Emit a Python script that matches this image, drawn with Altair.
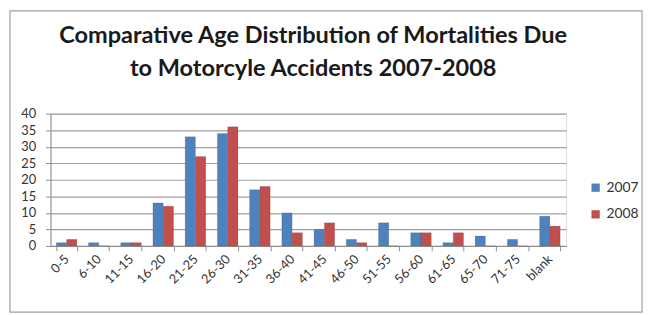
import altair as alt
import pandas as pd

categories = ["0-5", "6-10", "11-15", "16-20", "21-25", "26-30", "31-35", "36-40",
              "41-45", "46-50", "51-55", "56-60", "61-65", "65-70", "71-75", "blank"]
values_2007 = [1, 1, 1, 13, 33, 34, 17, 10, 5, 2, 7, 4, 1, 3, 2, 9]
values_2008 = [2, 0, 1, 12, 27, 36, 18, 4, 7, 1, 0, 4, 4, 0, 0, 6]
series = ["2007", "2008"]
colors = ["#4F81BD", "#C0504D"]
y_ticks = [0, 5, 10, 15, 20, 25, 30, 35, 40]
title_lines = ["Comparative Age Distribution  of Mortalities Due",
               "to Motorcyle Accidents 2007-2008"]

rows = []
for c, a, b in zip(categories, values_2007, values_2008):
    rows.append({"age": c, "year": "2007", "count": a})
    rows.append({"age": c, "year": "2008", "count": b})
df = pd.DataFrame(rows)

W, H = 522, 134

bars = alt.Chart(df).mark_bar(stroke="#00000033", strokeWidth=0.5).encode(
    x=alt.X("age:N", sort=categories,
            scale=alt.Scale(paddingInner=0.36, paddingOuter=0.18),
            axis=alt.Axis(title=None, labelAngle=-45, labelFontSize=13,
                          labelFont="Lato", labelColor="#333333",
                          labelPadding=6, tickBand="extent", tickSize=5,
                          domainColor="#8c8c8c", tickColor="#8c8c8c",
                          labelAlign="right", labelBaseline="middle")),
    xOffset=alt.XOffset("year:N", sort=series),
    y=alt.Y("count:Q", scale=alt.Scale(domain=[0, 40]),
            axis=alt.Axis(title=None, values=y_ticks, labelFontSize=13,
                          labelFont="Lato", labelColor="#333333",
                          labelPadding=10, tickSize=5,
                          gridColor="#a0a0a0", gridWidth=1.2,
                          domainColor="#8c8c8c", tickColor="#8c8c8c")),
    color=alt.Color("year:N", sort=series,
                    scale=alt.Scale(domain=series, range=colors),
                    legend=alt.Legend(title=None, orient="none",
                                      legendX=545, legendY=68,
                                      symbolType="square", symbolSize=70,
                                      symbolStrokeWidth=0,
                                      labelFontSize=14, labelFont="Lato",
                                      labelColor="#333333", rowPadding=13)),
)

border = alt.Chart(pd.DataFrame({"d": [0]})).mark_rect(
    fill=None, stroke="#a0a0a0", strokeWidth=1.2).encode(
    x=alt.value(-41), x2=alt.value(599), y=alt.value(-104), y2=alt.value(201))

title_df = pd.DataFrame({"line": title_lines, "i": [0, 1]})
title = alt.Chart(title_df).mark_text(
    font="Lato", fontSize=23.8, fontWeight="bold", color="#1a1a1a",
    align="center", baseline="alphabetic").encode(
    text="line:N",
    x=alt.value(266),
    y=alt.Y("i:Q", scale=alt.Scale(domain=[0, 1], range=[-71, -38]), axis=None),
)

chart = alt.layer(border, bars, title).resolve_scale(y="independent").properties(
    width=W, height=H,
    autosize=alt.AutoSizeParams(type="none"),
    padding={"left": 43, "top": 105, "right": 80, "bottom": 68},
).configure_view(stroke=None).configure(background="white")

chart.save("out.html", embed_options={"renderer": "svg", "actions": False})
